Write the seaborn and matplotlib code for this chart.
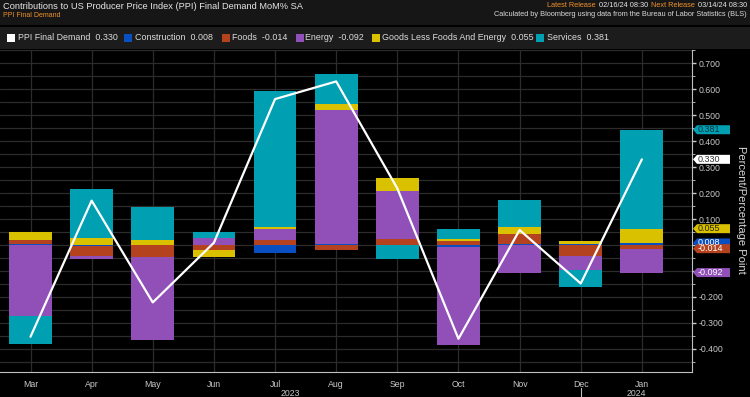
import numpy as np
import seaborn as sns
import matplotlib.pyplot as plt
from matplotlib.patches import Polygon, Rectangle
from matplotlib.ticker import MultipleLocator, FormatStrFormatter
from matplotlib.transforms import blended_transform_factory

# data (percentage-point contributions, MoM % SA)
months = ['Mar', 'Apr', 'May', 'Jun', 'Jul', 'Aug', 'Sep', 'Oct', 'Nov', 'Dec', 'Jan']
ppi = [-0.353, 0.171, -0.221, 0.009, 0.562, 0.630, 0.218, -0.361, 0.058, -0.148, 0.330]
construction = [0.003, -0.003, 0.000, 0.000, -0.030, 0.004, 0.000, -0.008, 0.003, 0.005, 0.008]
foods = [0.016, -0.040, -0.047, -0.019, 0.019, -0.021, 0.022, 0.017, 0.038, -0.041, -0.014]
energy = [-0.272, -0.012, -0.318, 0.026, 0.043, 0.516, 0.187, -0.377, -0.107, -0.055, -0.092]
goods = [0.030, 0.027, 0.019, -0.026, 0.006, 0.023, 0.050, 0.006, 0.027, 0.011, 0.055]
services = [-0.110, 0.190, 0.128, 0.024, 0.526, 0.115, -0.054, 0.038, 0.106, -0.067, 0.381]

components = [
    ('Construction', construction, '#0a4fc2', 'white'),
    ('Foods', foods, '#b5421f', 'white'),
    ('Energy', energy, '#9050b8', 'white'),
    ('Goods Less Foods And Energy', goods, '#d9c100', '#2a2400'),
    ('Services', services, '#00a0b2', '#06343c'),
]

sns.set_theme(style='dark', rc={'axes.facecolor': 'black', 'figure.facecolor': 'black',
                                'axes.unicode_minus': False})
plt.rcParams['font.family'] = ['Liberation Sans', 'DejaVu Sans']

fig = plt.figure(figsize=(7.5, 3.97), dpi=100)
W, H = 750, 397

# header bands
fig.patches.append(Rectangle((0, 1 - 25 / H), 1, 25 / H, transform=fig.transFigure,
                             facecolor='#161616', edgecolor='none', zorder=0))
fig.patches.append(Rectangle((0, 1 - 49 / H), 1, 22 / H, transform=fig.transFigure,
                             facecolor='#1c1c1c', edgecolor='none', zorder=0))

ax = fig.add_axes([0, 1 - 372.3 / H, 692 / W, (372.3 - 50) / H])
ax.set_facecolor('black')

pos_base = np.zeros(len(months))
neg_base = np.zeros(len(months))
for name, vals, col, _ in components:
    v = np.array(vals)
    bottom = np.where(v >= 0, pos_base, neg_base)
    sns.barplot(x=months, y=v, order=months, bottom=bottom, color=col, saturation=1,
                width=0.7, errorbar=None, linewidth=0, edgecolor='none', ax=ax, zorder=2)
    pos_base += np.where(v > 0, v, 0)
    neg_base += np.where(v < 0, v, 0)

sns.lineplot(x=np.arange(len(months)), y=ppi, color='white', linewidth=1.6, ax=ax, zorder=3)

ax.set_xlim(-0.499, 10.82)
ax.set_ylim(-0.490, 0.751)
ax.set_xlabel('')
ax.set_ylabel('')

ax.set_xticks(range(len(months)))
ax.set_xticklabels(months)
ax.yaxis.tick_right()
ax.yaxis.set_major_locator(MultipleLocator(0.1))
ax.yaxis.set_minor_locator(MultipleLocator(0.05))
ax.yaxis.set_major_formatter(FormatStrFormatter('%.3f'))
ax.set_axisbelow(True)
ax.grid(which='both', axis='y', color='#2c2c2c', linewidth=0.9)
ax.grid(which='major', axis='x', color='#2c2c2c', linewidth=0.9)
ax.tick_params(axis='x', colors='#c8c8c8', labelsize=6.3, length=2.5, width=0.8, pad=2.7)
ax.tick_params(axis='y', which='major', colors='#c8c8c8', labelsize=6.3, length=3, width=1, pad=1.5)
ax.tick_params(axis='y', which='minor', colors='#c8c8c8', length=2, width=0.6, right=True, left=False)
for s in ['left', 'top']:
    ax.spines[s].set_visible(False)
for s in ['right', 'bottom']:
    ax.spines[s].set_visible(True)
    ax.spines[s].set_color('#c0c0c0')
    ax.spines[s].set_linewidth(0.8)

# value tags on the right axis (last observation)
ytr = ax.get_yaxis_transform()
half = 4.5 / 259.7
def tag(y, text, fc, tc):
    x0, x1, x2 = 1 + 1 / 692, 1 + 5 / 692, 1 + 38 / 692
    poly = Polygon([(x0, y), (x1, y + half), (x2, y + half), (x2, y - half), (x1, y - half)],
                   closed=True, transform=ytr, facecolor=fc, edgecolor='none',
                   clip_on=False, zorder=5)
    ax.add_patch(poly)
    ax.text(1 + 6 / 692, y, text, transform=ytr, color=tc, fontsize=6.5, va='center',
            ha='left', zorder=6, clip_on=False)

last = {name: vals[-1] for name, vals, _, _ in components}
cum_pos, cum_neg = 0.0, 0.0
tag_pos = {}
for name, vals, col, tc in components:
    v = vals[-1]
    if v >= 0:
        cum_pos += v
        tag_pos[name] = cum_pos
    else:
        cum_neg += v
        tag_pos[name] = cum_neg

comp = {name: (col, tc) for name, _, col, tc in components}
tag(tag_pos['Services'], f"{last['Services']:.3f}", *comp['Services'])
tag(ppi[-1], f"{ppi[-1]:.3f}", 'white', '#333333')
for name in ['Goods Less Foods And Energy', 'Construction', 'Foods', 'Energy']:
    tag(tag_pos[name], f"{last[name]:.3f}", *comp[name])

fig.text(741 / W, 1 - 210 / H, 'Percent/Percentage Point', rotation=270, ha='center',
         va='center', color='#d8d8d8', fontsize=8)

# year labels and separator
bt = blended_transform_factory(ax.transData, fig.transFigure)
ax.plot([9, 9], [1 - 388 / H, 0], transform=bt, color='#c0c0c0', lw=0.8, clip_on=False)
ax.text((ax.get_xlim()[0] + 9) / 2, 1 - 393 / H, '2023', transform=bt, ha='center',
        va='center', color='#c8c8c8', fontsize=6.3)
ax.text((9 + ax.get_xlim()[1]) / 2, 1 - 393 / H, '2024', transform=bt, ha='center',
        va='center', color='#c8c8c8', fontsize=6.3)

# titles
orange = '#f0922b'
fig.text(3 / W, 1 - 6.5 / H, 'Contributions to US Producer Price Index (PPI) Final Demand MoM% SA',
         color='#e6e6e6', fontsize=6.7, va='center', ha='left')
fig.text(3 / W, 1 - 15.5 / H, 'PPI Final Demand', color=orange, fontsize=5.0, va='center', ha='left')

renderer = fig.canvas.get_renderer()
def right_text(parts, y, size):
    x = 747
    for txt, col in reversed(parts):
        t = fig.text(x / W, 1 - y / H, txt, color=col, fontsize=size, ha='right', va='center')
        bb = t.get_window_extent(renderer)
        x -= bb.width + 3

right_text([('Latest Release', orange), ('02/16/24 08:30', '#e6e6e6'),
            ('Next Release', orange), ('03/14/24 08:30', '#e6e6e6')], 5.5, 5.3)
fig.text(747 / W, 1 - 14.5 / H,
         'Calculated by Bloomberg using data from the Bureau of Labor Statistics (BLS)',
         color='#d8d8d8', fontsize=5.3, ha='right', va='center')

# legend row
leg_items = [('PPI Final Demand', ppi[-1], 'white', 7, 18)]
sq_x = [124, 222, 296, 372, 536]
tx_x = [135, 232, 305, 382, 547]
for (name, vals, col, _), sx, tx in zip(components, sq_x, tx_x):
    leg_items.append((name, vals[-1], col, sx, tx))
ly = 37.7
for name, val, col, sx, tx in leg_items:
    fig.patches.append(Rectangle((sx / W, 1 - (ly + 4) / H), 8 / W, 8 / H,
                                 transform=fig.transFigure, facecolor=col,
                                 edgecolor='none', zorder=2))
    fig.text(tx / W, 1 - ly / H, f'{name}  {val:.3f}', color='#dcdcdc', fontsize=6.4,
             va='center', ha='left')

fig.savefig('out.png', dpi=100, facecolor='black')
